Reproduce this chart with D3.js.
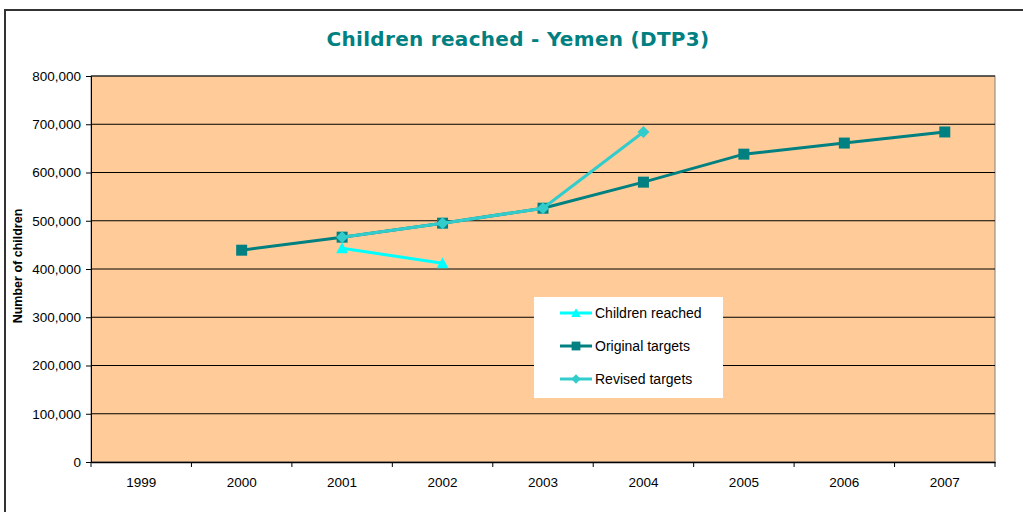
<!DOCTYPE html>
<html><head><meta charset="utf-8">
<script src="https://cdn.jsdelivr.net/npm/d3@7"></script>
<style>body{margin:0;background:#fff}svg{display:block}</style>
</head><body>
<script>
const years = ["1999","2000","2001","2002","2003","2004","2005","2006","2007"];
const childrenReached = [null,null,443000,412000,null,null,null,null,null];
const originalTargets = [null,439000,466000,495000,526000,580000,638000,661000,684000];
const revisedTargets = [null,null,466000,495000,526000,684000,null,null,null];
const yTicks = [0,100000,200000,300000,400000,500000,600000,700000,800000];

const W=1023,H=512;
const svg=d3.select("body").append("svg").attr("width",W).attr("height",H);
svg.append("rect").attr("width",W).attr("height",H).attr("fill","#fff");
// outer frame
svg.append("path").attr("d","M5,512V10H1023").attr("fill","none").attr("stroke","#333").attr("stroke-width",2);

const L=91,R=995,T=76,B=462;
const x=d3.scaleBand().domain(years).range([L,R]);
const y=d3.scaleLinear().domain([0,800000]).range([B,T]);

svg.append("rect").attr("x",L).attr("y",T).attr("width",R-L).attr("height",B-T).attr("fill","#FFCC99").attr("stroke","#808080");

// gridlines
svg.append("g").selectAll("line").data(yTicks.slice(1)).join("line")
 .attr("x1",L).attr("x2",R).attr("y1",d=>y(d)).attr("y2",d=>y(d)).attr("stroke","#000").attr("stroke-width",1);

// y axis
const fmt=d3.format(",");
const ya=svg.append("g").attr("transform",`translate(${L},0)`)
 .call(d3.axisLeft(y).tickValues(yTicks).tickFormat(fmt).tickSize(5).tickPadding(5));
ya.select(".domain").attr("stroke","#000");
ya.selectAll("text").attr("font-family","Liberation Sans, Arial").attr("font-size",13.5).attr("fill","#000");

// x axis
const xa=svg.append("g").attr("transform",`translate(0,${B})`)
 .call(d3.axisBottom(x).tickSize(0).tickPadding(15));
xa.select(".domain").attr("stroke","#000").attr("stroke-width",1.5);
xa.selectAll("text").attr("font-family","Liberation Sans, Arial").attr("font-size",13.5).attr("fill","#000");
xa.selectAll(".bt").data(years.concat(["end"])).join("line")
 .attr("x1",(d,i)=>L+i*x.step()).attr("x2",(d,i)=>L+i*x.step()).attr("y1",0).attr("y2",5).attr("stroke","#000");

// title
svg.append("text").attr("x",518).attr("y",46).attr("text-anchor","middle")
 .attr("font-family","DejaVu Sans, Verdana").attr("font-weight","bold").attr("font-size",20)
 .attr("letter-spacing",0.3)
 .attr("fill","#008080").text("Children reached - Yemen (DTP3)");
// y title
svg.append("text").attr("transform","translate(22,266) rotate(-90)").attr("text-anchor","middle")
 .attr("font-family","Liberation Sans, Arial").attr("font-weight","bold").attr("font-size",12.5)
 .text("Number of children");

const cx=d=>x(d.year)+x.bandwidth()/2;
function series(vals,color,marker){
  const pts=years.map((yr,i)=>({year:yr,v:vals[i]})).filter(d=>d.v!=null);
  svg.append("path").datum(pts).attr("fill","none").attr("stroke",color).attr("stroke-width",3)
   .attr("d",d3.line().x(cx).y(d=>y(d.v)));
  const g=svg.append("g");
  g.selectAll("path").data(pts).join("path")
   .attr("transform",d=>`translate(${cx(d)},${y(d.v)})`)
   .attr("d",marker).attr("fill",color);
}
const sq="M-5.5,-5.5H5.5V5.5H-5.5Z";
const dia="M0,-6L6,0L0,6L-6,0Z";
const tri="M0,-6L6,5H-6Z";
series(originalTargets,"#008080",sq);
series(revisedTargets,"#33CCCC",dia);
series(childrenReached,"#00FFFF",tri);

// legend
const lg=svg.append("g");
lg.append("rect").attr("x",534).attr("y",297).attr("width",189).attr("height",101).attr("fill","#fff");
const items=[["Children reached","#00FFFF",tri],["Original targets","#008080",sq],["Revised targets","#33CCCC",dia]];
items.forEach((it,i)=>{
  const yy=313+i*33;
  lg.append("line").attr("x1",560).attr("x2",592).attr("y1",yy).attr("y2",yy).attr("stroke",it[1]).attr("stroke-width",3);
  lg.append("path").attr("transform",`translate(576,${yy}) scale(0.8)`).attr("d",it[2]).attr("fill",it[1]);
  lg.append("text").attr("x",595).attr("y",yy+5).attr("font-family","Liberation Sans, Arial").attr("font-size",14).text(it[0]);
});
</script>
</body></html>
